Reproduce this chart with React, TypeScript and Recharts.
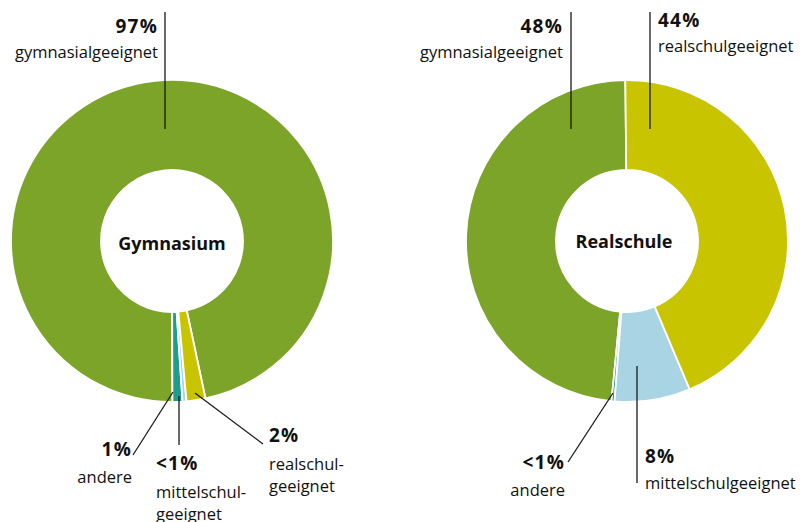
import React from 'react';
import { PieChart, Pie, Cell } from 'recharts';

const categories = ['gymnasialgeeignet', 'andere', 'mittelschulgeeignet', 'realschulgeeignet'];
const gymnasiumValues = [97, 1, 0.4, 1.9];
const realschuleValues = [48.3, 0.3, 7.6, 43.8];
const gymnasiumPercentLabels = ['97%', '1%', '<1%', '2%'];
const realschulePercentLabels = ['48%', '<1%', '8%', '44%'];
const gymnasiumNameLines = [['gymnasialgeeignet'], ['andere'], ['mittelschul-', 'geeignet'], ['realschul-', 'geeignet']];
const realschuleNameLines = [['gymnasialgeeignet'], ['andere'], ['mittelschulgeeignet'], ['realschulgeeignet']];
const schoolTitles = ['Gymnasium', 'Realschule'];

const COLORS = ['#7BA428', '#1E9C8C', '#A8D4E3', '#C9C400'];
const FONT = '"Open Sans", "Noto Sans", sans-serif';

const gymData = categories.map((name, i) => ({ name, value: gymnasiumValues[i] }));
const realData = categories.map((name, i) => ({ name, value: realschuleValues[i] }));

type LabelLayout = { l: [number, number, number, number]; tx: number; pY: number; nY: number; anchor: 'start' | 'end' };

// label layout offsets relative to pie center
const gymLayout: LabelLayout[] = [
  { l: [-7, -112, -7, -229], tx: -14, pY: -208, nY: -183, anchor: 'end' },
  { l: [1, 151, -39, 214], tx: -40, pY: 215, nY: 242, anchor: 'end' },
  { l: [7, 155, 7, 204], tx: -16, pY: 229, nY: 257, anchor: 'start' },
  { l: [23, 152, 91, 203], tx: 97, pY: 201, nY: 229, anchor: 'start' },
];
const realLayout: LabelLayout[] = [
  { l: [-56, -112, -56, -229], tx: -64, pY: -208, nY: -183, anchor: 'end' },
  { l: [-14, 152, -59, 221], tx: -62, pY: 228, nY: 255, anchor: 'end' },
  { l: [10, 125, 10, 242], tx: 18, pY: 222, nY: 248, anchor: 'start' },
  { l: [23, -112, 23, -229], tx: 31, pY: -214, nY: -189, anchor: 'start' },
];

const makeLabel = (layout: LabelLayout[], pct: string[], names: string[][]) => (props: any) => {
  const { cx, cy, index } = props;
  const lay = layout[index];
  if (!lay) return null;
  return (
    <g key={`lbl-${index}`}>
      <line x1={cx + lay.l[0]} y1={cy + lay.l[1]} x2={cx + lay.l[2]} y2={cy + lay.l[3]} stroke="#1a1a1a" strokeWidth={1.3} />
      <text x={cx + lay.tx} y={cy + lay.pY} textAnchor={lay.anchor} fontFamily={FONT} fontWeight={700} fontSize={19} letterSpacing={1.2} fill="#111">
        {pct[index]}
      </text>
      {names[index].map((line, j) => (
        <text key={j} x={cx + lay.tx} y={cy + lay.nY + j * 22} textAnchor={lay.anchor} fontFamily={FONT} fontSize={16.5} fill="#111">
          {line}
        </text>
      ))}
    </g>
  );
};

const CenterTitle = ({ cx, cy, text }: { cx: number; cy: number; text: string }) => (
  <text x={cx} y={cy} textAnchor="middle" dominantBaseline="central" fontFamily={FONT} fontWeight={700} fontSize={18} fill="#111">
    {text}
  </text>
);

const GYM_CX = 172;
const REAL_CX = 627;
const CY = 241;

export default function App() {
  return (
    <div style={{ position: 'absolute', left: 0, top: 0, width: 800, height: 522, background: '#fff' }}>
      <PieChart width={800} height={522} margin={{ top: 0, right: 0, bottom: 0, left: 0 }}>
        <Pie
          data={gymData}
          dataKey="value"
          nameKey="name"
          cx={GYM_CX}
          cy={CY}
          innerRadius={71}
          outerRadius={161}
          startAngle={282}
          endAngle={642}
          stroke="#fff"
          strokeWidth={1.8}
          isAnimationActive={false}
          labelLine={false}
          label={makeLabel(gymLayout, gymnasiumPercentLabels, gymnasiumNameLines)}
        >
          {gymData.map((d, i) => (
            <Cell key={d.name} fill={COLORS[i]} />
          ))}
        </Pie>
        <Pie
          data={realData}
          dataKey="value"
          nameKey="name"
          cx={REAL_CX}
          cy={CY}
          innerRadius={71}
          outerRadius={161}
          startAngle={90.6}
          endAngle={450.6}
          stroke="#fff"
          strokeWidth={1.8}
          isAnimationActive={false}
          labelLine={false}
          label={makeLabel(realLayout, realschulePercentLabels, realschuleNameLines)}
        >
          {realData.map((d, i) => (
            <Cell key={d.name} fill={COLORS[i]} />
          ))}
        </Pie>
        <CenterTitle cx={GYM_CX} cy={CY + 2} text={schoolTitles[0]} />
        <CenterTitle cx={REAL_CX - 3} cy={CY} text={schoolTitles[1]} />
      </PieChart>
    </div>
  );
}
